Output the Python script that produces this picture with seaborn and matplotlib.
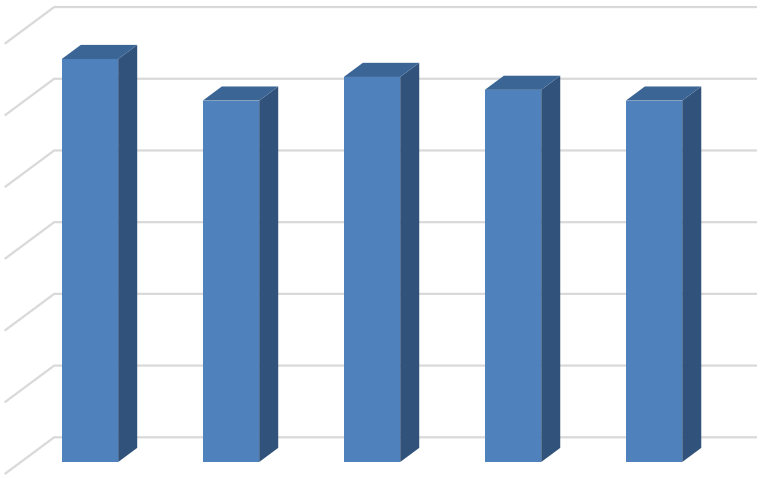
import numpy as np
import pandas as pd
import matplotlib
matplotlib.use("Agg")
import matplotlib.pyplot as plt
from matplotlib.patches import Polygon
import seaborn as sns

sns.set_theme(style="white")

categories = ["A", "B", "C", "D", "E"]
values = [5.62, 5.04, 5.37, 5.19, 5.04]
grid_levels = [0, 1, 2, 3, 4, 5, 6]

FRONT = "#4F81BD"
TOP = "#3B6595"
SIDE = "#31527A"
GRID = "#D9D9D9"

# oblique projection: one unit of depth = bar depth
DX, DY = 0.135, 0.197
BACK_DEPTH = 1.75
FRONT_DEPTH = -0.85
WALL_X = -0.49
RIGHT_END = 4.73

df = pd.DataFrame({"cat": categories, "val": values})

fig = plt.figure(figsize=(7.65, 4.78), dpi=100)
ax = fig.add_axes([0, 0, 1, 1])

sns.barplot(data=df, x="cat", y="val", color=FRONT, width=0.4,
            saturation=1, edgecolor="none", ax=ax, zorder=3)

# gridlines on left wall and back wall
for g in grid_levels:
    x0, y0 = WALL_X + FRONT_DEPTH * DX, g + FRONT_DEPTH * DY
    x1, y1 = WALL_X + BACK_DEPTH * DX, g + BACK_DEPTH * DY
    ax.plot([x0, x1, RIGHT_END], [y0, y1, y1], color=GRID, lw=1.6,
            zorder=1, solid_capstyle="butt", solid_joinstyle="miter")

# side and top faces from the drawn bars
for p in ax.patches:
    x, w, h = p.get_x(), p.get_width(), p.get_height()
    side = [(x + w, 0), (x + w + DX, DY), (x + w + DX, h + DY), (x + w, h)]
    top = [(x, h), (x + DX, h + DY), (x + w + DX, h + DY), (x + w, h)]
    ax.add_patch(Polygon(side, closed=True, facecolor=SIDE, edgecolor="none", zorder=3))
    ax.add_patch(Polygon(top, closed=True, facecolor=TOP, edgecolor="none", zorder=3))

ax.set_xlim(-0.638, 4.787)
ax.set_ylim(-0.223, 6.443)
ax.axis("off")

fig.savefig("out.png", dpi=100)
